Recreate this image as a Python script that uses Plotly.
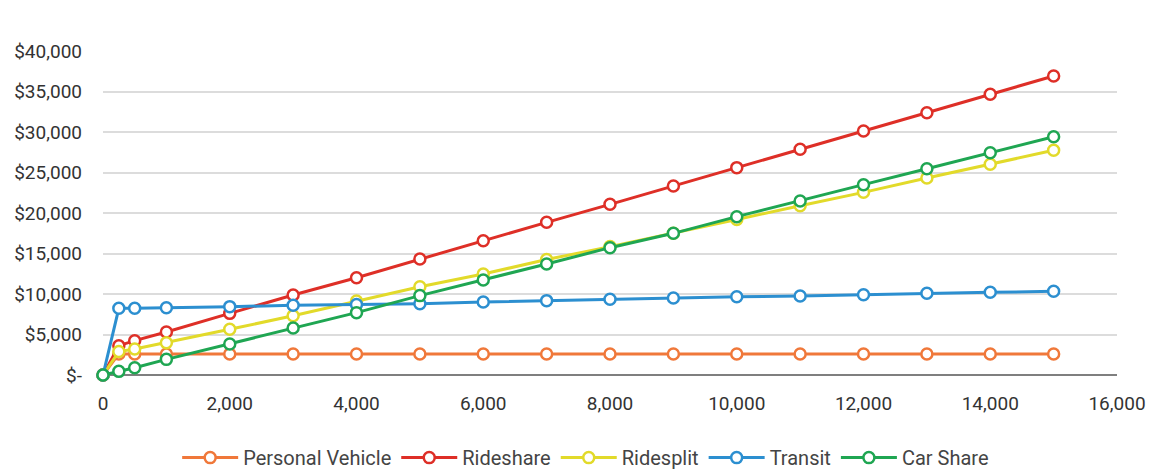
import plotly.graph_objects as go

miles = [0, 250, 500, 1000, 2000, 3000, 4000, 5000, 6000, 7000, 8000,
         9000, 10000, 11000, 12000, 13000, 14000, 15000]

personal_vehicle = [0, 2600, 2600, 2600, 2600, 2600, 2600, 2600, 2600, 2600, 2600,
                    2600, 2600, 2600, 2600, 2600, 2600, 2600]
rideshare = [0, 3620, 4240, 5310, 7610, 9880, 12010, 14320, 16580, 18850, 21070,
             23330, 25600, 27860, 30120, 32380, 34650, 36910]
ridesplit = [0, 2900, 3210, 3990, 5640, 7320, 9140, 10900, 12470, 14250, 15850,
             17490, 19200, 20900, 22550, 24320, 26010, 27740]
transit = [0, 8230, 8250, 8300, 8440, 8600, 8700, 8800, 9010, 9180, 9340,
           9510, 9670, 9750, 9920, 10080, 10210, 10330]
car_share = [0, 450, 900, 1930, 3830, 5800, 7700, 9800, 11730, 13700, 15720,
             17490, 19550, 21480, 23500, 25470, 27440, 29420]

series = [
    ("Personal Vehicle", personal_vehicle, "#F0783A"),
    ("Rideshare", rideshare, "#DE2F27"),
    ("Ridesplit", ridesplit, "#E2DA2A"),
    ("Transit", transit, "#2C8FD0"),
    ("Car Share", car_share, "#1FA652"),
]

y_ticks = [0, 5000, 10000, 15000, 20000, 25000, 30000, 35000, 40000]
y_labels = ["$-", "$5,000", "$10,000", "$15,000", "$20,000",
            "$25,000", "$30,000", "$35,000", "$40,000"]
x_ticks = list(range(0, 16001, 2000))
x_labels = [f"{v:,}" for v in x_ticks]

fig = go.Figure()
for name, vals, color in series:
    fig.add_trace(go.Scatter(
        x=miles, y=vals, name=name, mode="lines+markers",
        line=dict(color=color, width=3),
        marker=dict(symbol="circle", size=11, color="white",
                    line=dict(color=color, width=2.5)),
        cliponaxis=False,
    ))

# page body has an 8px margin, so the figure is drawn a bit smaller
fig.update_layout(
    width=1155, height=463,
    margin=dict(l=95, r=46, t=43, b=96, autoexpand=False),
    paper_bgcolor="white", plot_bgcolor="white",
    font=dict(family="Roboto", size=19, color="#333333"),
    showlegend=True,
    legend=dict(orientation="h", x=0.476, xanchor="center", y=-0.255, yanchor="middle",
                font=dict(size=20, color="#444444"), itemwidth=56),
)
fig.update_xaxes(
    range=[0, 16000], tickvals=x_ticks, ticktext=x_labels,
    showgrid=False, zeroline=False, showline=False, ticks="",
    ticklabelstandoff=15, automargin=False,
)
fig.update_yaxes(
    range=[0, 40000], tickvals=y_ticks, ticktext=y_labels,
    showgrid=True, gridcolor="#DCDCDC", gridwidth=1.5,
    zeroline=True, zerolinecolor="#7F7F7F", zerolinewidth=1.5,
    showline=False, ticks="", ticklabelstandoff=20, automargin=False,
)

fig.write_html("out.html")
